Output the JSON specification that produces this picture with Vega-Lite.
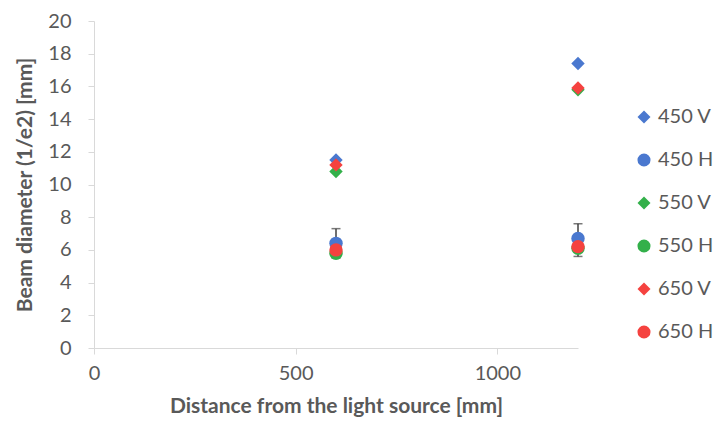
{
  "$schema": "https://vega.github.io/schema/vega-lite/v6.json",
  "width": 484,
  "height": 327,
  "autosize": {"type": "none"},
  "padding": {"left": 94, "top": 21, "right": 145, "bottom": 76},
  "background": "white",
  "config": {
    "view": {"stroke": null},
    "font": "Lato",
    "axis": {
      "grid": false,
      "domainColor": "#d9d9d9",
      "tickColor": "#d9d9d9",
      "labelColor": "#595959",
      "titleColor": "#595959",
      "labelFont": "Lato",
      "titleFont": "Lato",
      "labelFontSize": 20,
      "titleFontSize": 21,
      "titleFontWeight": "bold",
      "tickSize": 6,
      "labelOverlap": false,
      "labelFlush": false
    },
    "legend": {
      "labelFont": "Lato",
      "labelFontSize": 20,
      "labelColor": "#595959"
    }
  },
  "data": {
    "values": [
      {"x": 600, "series": "450 V", "value": 11.5},
      {"x": 600, "series": "450 H", "value": 6.4, "lo": 5.5, "hi": 7.3},
      {"x": 600, "series": "550 V", "value": 10.8},
      {"x": 600, "series": "550 H", "value": 5.8},
      {"x": 600, "series": "650 V", "value": 11.2},
      {"x": 600, "series": "650 H", "value": 6.0},
      {"x": 1200, "series": "450 V", "value": 17.4},
      {"x": 1200, "series": "450 H", "value": 6.7, "lo": 5.6, "hi": 7.6},
      {"x": 1200, "series": "550 V", "value": 15.8},
      {"x": 1200, "series": "550 H", "value": 6.1},
      {"x": 1200, "series": "650 V", "value": 15.9},
      {"x": 1200, "series": "650 H", "value": 6.2}
    ]
  },
  "encoding": {
    "x": {
      "field": "x",
      "type": "quantitative",
      "scale": {"domain": [0, 1200], "nice": false},
      "axis": {"values": [0, 500, 1000], "format": "d", "title": "Distance from the light source [mm]", "labelPadding": 9, "titlePadding": 12}
    },
    "y": {
      "field": "value",
      "type": "quantitative",
      "scale": {"domain": [0, 20], "nice": false},
      "axis": {"values": [0, 2, 4, 6, 8, 10, 12, 14, 16, 18, 20], "labelOverlap": false, "title": "Beam diameter (1/e2) [mm]", "labelPadding": 17, "titlePadding": 12}
    }
  },
  "layer": [
    {
      "transform": [{"filter": "isValid(datum.lo)"}],
      "mark": {"type": "rule", "color": "#404040", "strokeWidth": 1.5},
      "encoding": {
        "y": {"field": "lo", "type": "quantitative", "scale": {"domain": [0, 20], "nice": false}, "axis": {"values": [0, 2, 4, 6, 8, 10, 12, 14, 16, 18, 20], "labelOverlap": false, "title": "Beam diameter (1/e2) [mm]", "labelPadding": 17, "titlePadding": 12}},
        "y2": {"field": "hi"}
      }
    },
    {
      "transform": [{"filter": "isValid(datum.lo)"}],
      "mark": {"type": "tick", "orient": "horizontal", "color": "#404040", "size": 9, "thickness": 1.5},
      "encoding": {"y": {"field": "hi", "type": "quantitative", "scale": {"domain": [0, 20], "nice": false}, "axis": {"values": [0, 2, 4, 6, 8, 10, 12, 14, 16, 18, 20], "labelOverlap": false, "title": "Beam diameter (1/e2) [mm]", "labelPadding": 17, "titlePadding": 12}}}
    },
    {
      "transform": [{"filter": "isValid(datum.lo)"}],
      "mark": {"type": "tick", "orient": "horizontal", "color": "#404040", "size": 9, "thickness": 1.5},
      "encoding": {"y": {"field": "lo", "type": "quantitative", "scale": {"domain": [0, 20], "nice": false}, "axis": {"values": [0, 2, 4, 6, 8, 10, 12, 14, 16, 18, 20], "labelOverlap": false, "title": "Beam diameter (1/e2) [mm]", "labelPadding": 17, "titlePadding": 12}}}
    },
    {
      "mark": {"type": "point", "filled": true, "opacity": 1, "size": 180},
      "encoding": {
        "color": {
          "field": "series",
          "type": "nominal",
          "scale": {
            "domain": ["450 V", "450 H", "550 V", "550 H", "650 V", "650 H"],
            "range": ["#4A78CF", "#4A78CF", "#33B04A", "#33B04A", "#F5423F", "#F5423F"]
          },
          "legend": {
            "title": null,
            "orient": "none",
            "legendX": 540,
            "legendY": 86,
            "symbolSize": 170,
            "rowPadding": 23,
            "labelOffset": 4,
            "symbolOpacity": 1
          }
        },
        "shape": {
          "field": "series",
          "type": "nominal",
          "scale": {
            "domain": ["450 V", "450 H", "550 V", "550 H", "650 V", "650 H"],
            "range": ["diamond", "circle", "diamond", "circle", "diamond", "circle"]
          },
          "legend": null
        }
      }
    }
  ]
}
